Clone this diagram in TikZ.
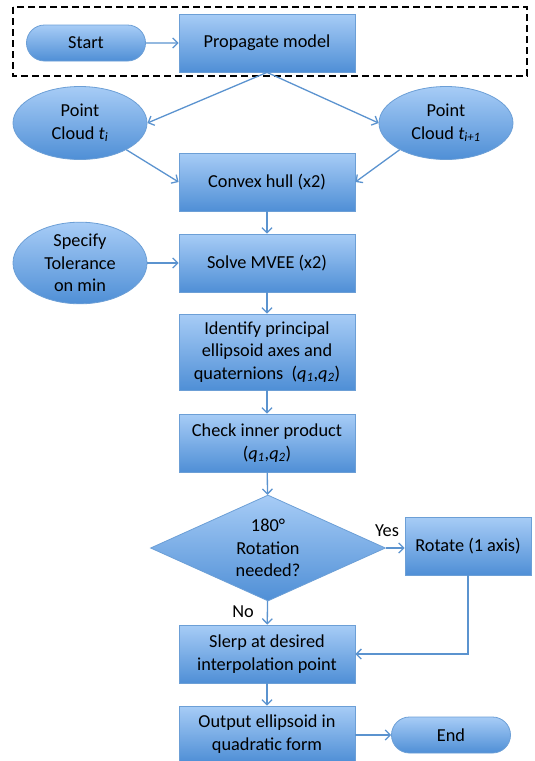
\documentclass[tikz,border=0pt]{standalone}
\usepackage{fontspec}
\setmainfont{Carlito}
\usetikzlibrary{shapes.geometric,shapes.misc,arrows.meta}

\definecolor{boxtop}{HTML}{A7CCF6}
\definecolor{boxbot}{HTML}{4F8FD6}
\definecolor{boxline}{HTML}{6C9FD6}
\definecolor{flowline}{HTML}{5B93CF}

\tikzset{
    shade box/.style={top color=boxtop, bottom color=boxbot, draw=boxline, line width=0.8pt,
        font=\fontsize{18.3}{22.5}\selectfont, align=center, inner sep=2pt},
    procbox/.style={shade box, rectangle, minimum width=176pt, minimum height=58pt},
    termbox/.style={shade box, rounded rectangle, minimum width=123pt, minimum height=36pt},
    databox/.style={shade box, ellipse, minimum width=134pt, minimum height=73pt, inner sep=0pt},
    decbox/.style={shade box, diamond, aspect=2.2, inner sep=0pt, minimum width=235pt, minimum height=106pt},
    flow/.style={->, draw=flowline, line width=1.3pt},
    note/.style={font=\fontsize{18.3}{22.5}\selectfont}
}

\begin{document}
\begin{tikzpicture}[x=1pt, y=-1pt, >={Straight Barb[length=5pt,width=10pt]}]
    \useasboundingbox (0,0) rectangle (535,761);
    % Model propagation frame
    \draw[line width=1.6pt, dash pattern=on 7pt off 4pt] (13,7) rectangle (527,76);
    % Nodes
    \node[termbox] (start) at (86,43) {Start};
    \node[procbox] (prop) at (267,43) {Propagate model};
    \node[databox] (pcl) at (80,123) {Point\\Cloud \textit{t}\textsubscript{\textit{i}}};
    \node[databox] (pcr) at (446,123) {Point\\Cloud \textit{t}\textsubscript{\textit{i+1}}};
    \node[procbox] (hull) at (267,182) {Convex hull (x2)};
    \node[databox] (tol) at (80,263) {Specify\\Tolerance\\on min};
    \node[procbox] (mvee) at (267,263) {Solve MVEE (x2)};
    \node[procbox, minimum height=76pt] (ident) at (267,352)
        {Identify principal\\ellipsoid axes and\\quaternions\ \ (\textit{q}\textsubscript{\textit{1}},\textit{q}\textsubscript{\textit{2}})};
    \node[procbox] (check) at (267,443) {Check inner product\\(\textit{q}\textsubscript{\textit{1}},\textit{q}\textsubscript{\textit{2}})};
    \node[decbox] (turn) at (268,548) {180°\\Rotation\\needed?};
    \node[procbox, minimum width=126pt] (rot) at (468,546) {Rotate (1 axis)};
    \node[procbox] (slerp) at (267,654) {Slerp at desired\\interpolation point};
    \node[procbox, minimum height=56pt] (outp) at (267,734) {Output ellipsoid in\\quadratic form};
    \node[termbox] (finish) at (451,735) {End};
    % Labels
    \node[note] (yes) at (387,531) {Yes};
    \node[note] (no) at (243,612) {No};
    % Connectors
    \draw[flow] (start) -- (prop);
    \draw[flow] (prop.south) -- (pcl.east);
    \draw[flow] (prop.south) -- (pcr.west);
    \draw[flow] (pcl.-30) -- (hull.west);
    \draw[flow] (pcr.-150) -- (hull.east);
    \draw[flow] (hull) -- (mvee);
    \draw[flow] (tol) -- (mvee);
    \draw[flow] (mvee) -- (ident);
    \draw[flow] (ident) -- (check);
    \draw[flow] (check) -- (turn);
    \draw[flow] (turn.east) -- (turn.east -| rot.west);
    \draw[flow] (turn) -- (slerp);
    \draw[flow] (rot.south) |- (slerp.east);
    \draw[flow] (slerp) -- (outp);
    \draw[flow] (outp.east |- finish) -- (finish);
\end{tikzpicture}
\end{document}
